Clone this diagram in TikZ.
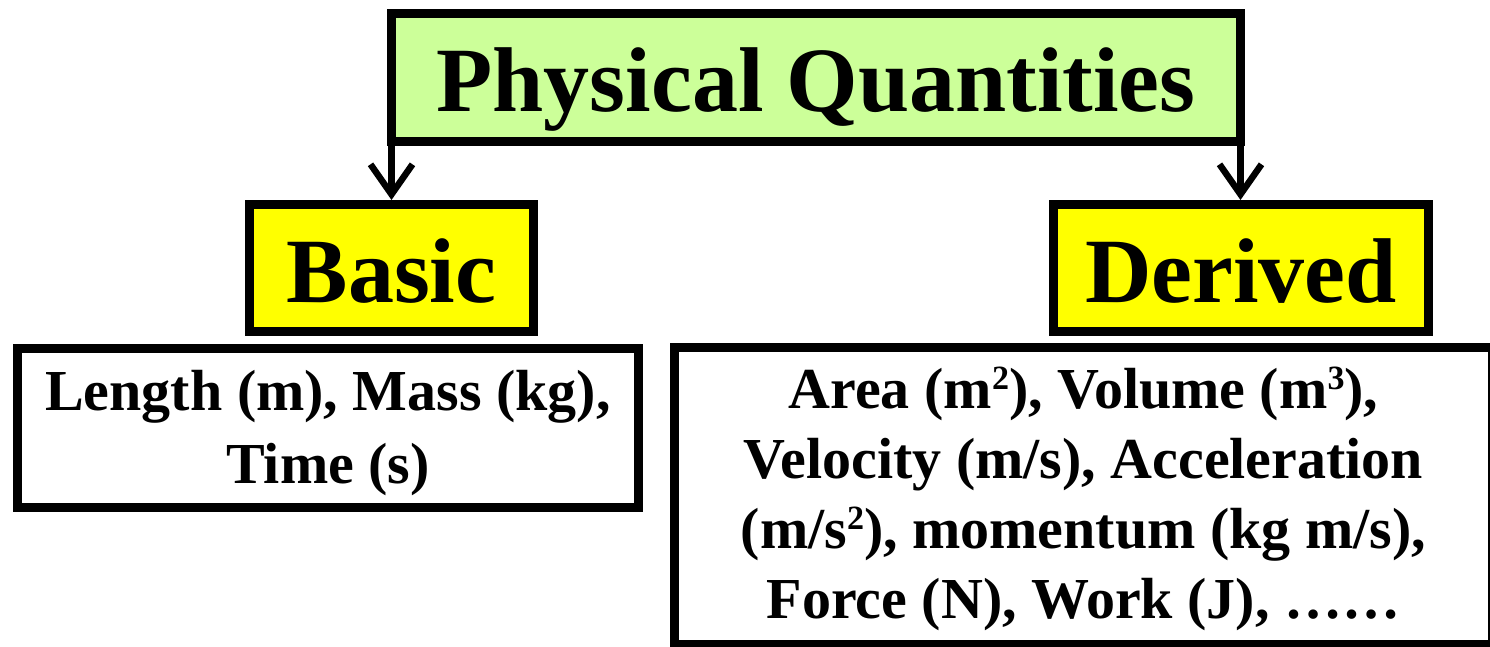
\documentclass[tikz,border=0pt]{standalone}
\usepackage{fontspec}
\setmainfont{Liberation Serif}
\usetikzlibrary{arrows.meta,calc}
\definecolor{pqgreen}{HTML}{CCFF99}
\definecolor{pqyellow}{HTML}{FFFF00}
\newcommand{\pqsup}[1]{\raisebox{0.33em}{\fontsize{34}{34}\selectfont #1}}
\begin{document}
\begin{tikzpicture}[x=1pt,y=-1pt,
  titlebox/.style={draw=black, line width=9pt, fill=pqgreen, minimum width=849pt, minimum height=128pt, inner sep=0pt, outer sep=0pt, font=\fontsize{92}{92}\selectfont\bfseries, text height=68pt, text depth=0pt},
  catbox/.style={draw=black, line width=9pt, fill=pqyellow, minimum height=127pt, inner sep=0pt, font=\fontsize{92}{92}\selectfont\bfseries, text height=68pt, text depth=0pt},
  listbox/.style={draw=black, line width=9pt, fill=white, inner sep=0pt, align=center, font=\fontsize{58}{73}\selectfont\bfseries},
  conn/.style={line width=6.5pt, -{Straight Barb[length=30pt,width=42pt]}}
]
\useasboundingbox (0,0) rectangle (1490,647);
\clip (0,0) rectangle (1490,647);
\node[titlebox] (pq) at (816,78) {Physical Quantities};
\node[catbox, minimum width=284pt] (basic) at (391.5,268) {Basic};
\node[catbox, minimum width=375pt] (derived) at (1241,268) {Derived};
\node[listbox, minimum width=621pt, minimum height=159pt] (basiclist) at (328,428)
  {\rule{0pt}{51pt}Length (m), Mass (kg),\\Time (s)};
\node[listbox, minimum width=818pt, minimum height=297pt, font=\fontsize{58}{70}\selectfont\bfseries] (derivedlist) at (1083.5,496)
  {\rule{0pt}{48pt}Area (m\pqsup{2}), Volume (m\pqsup{3}),\\Velocity (m/s), Acceleration\\(m/s\pqsup{2}), momentum (kg m/s),\\Force (N), Work (J), ……};
\draw[conn] (pq.south west) -- (pq.south west |- basic.north);
\draw[conn] (pq.south east) -- (pq.south east |- derived.north);
\end{tikzpicture}
\end{document}
